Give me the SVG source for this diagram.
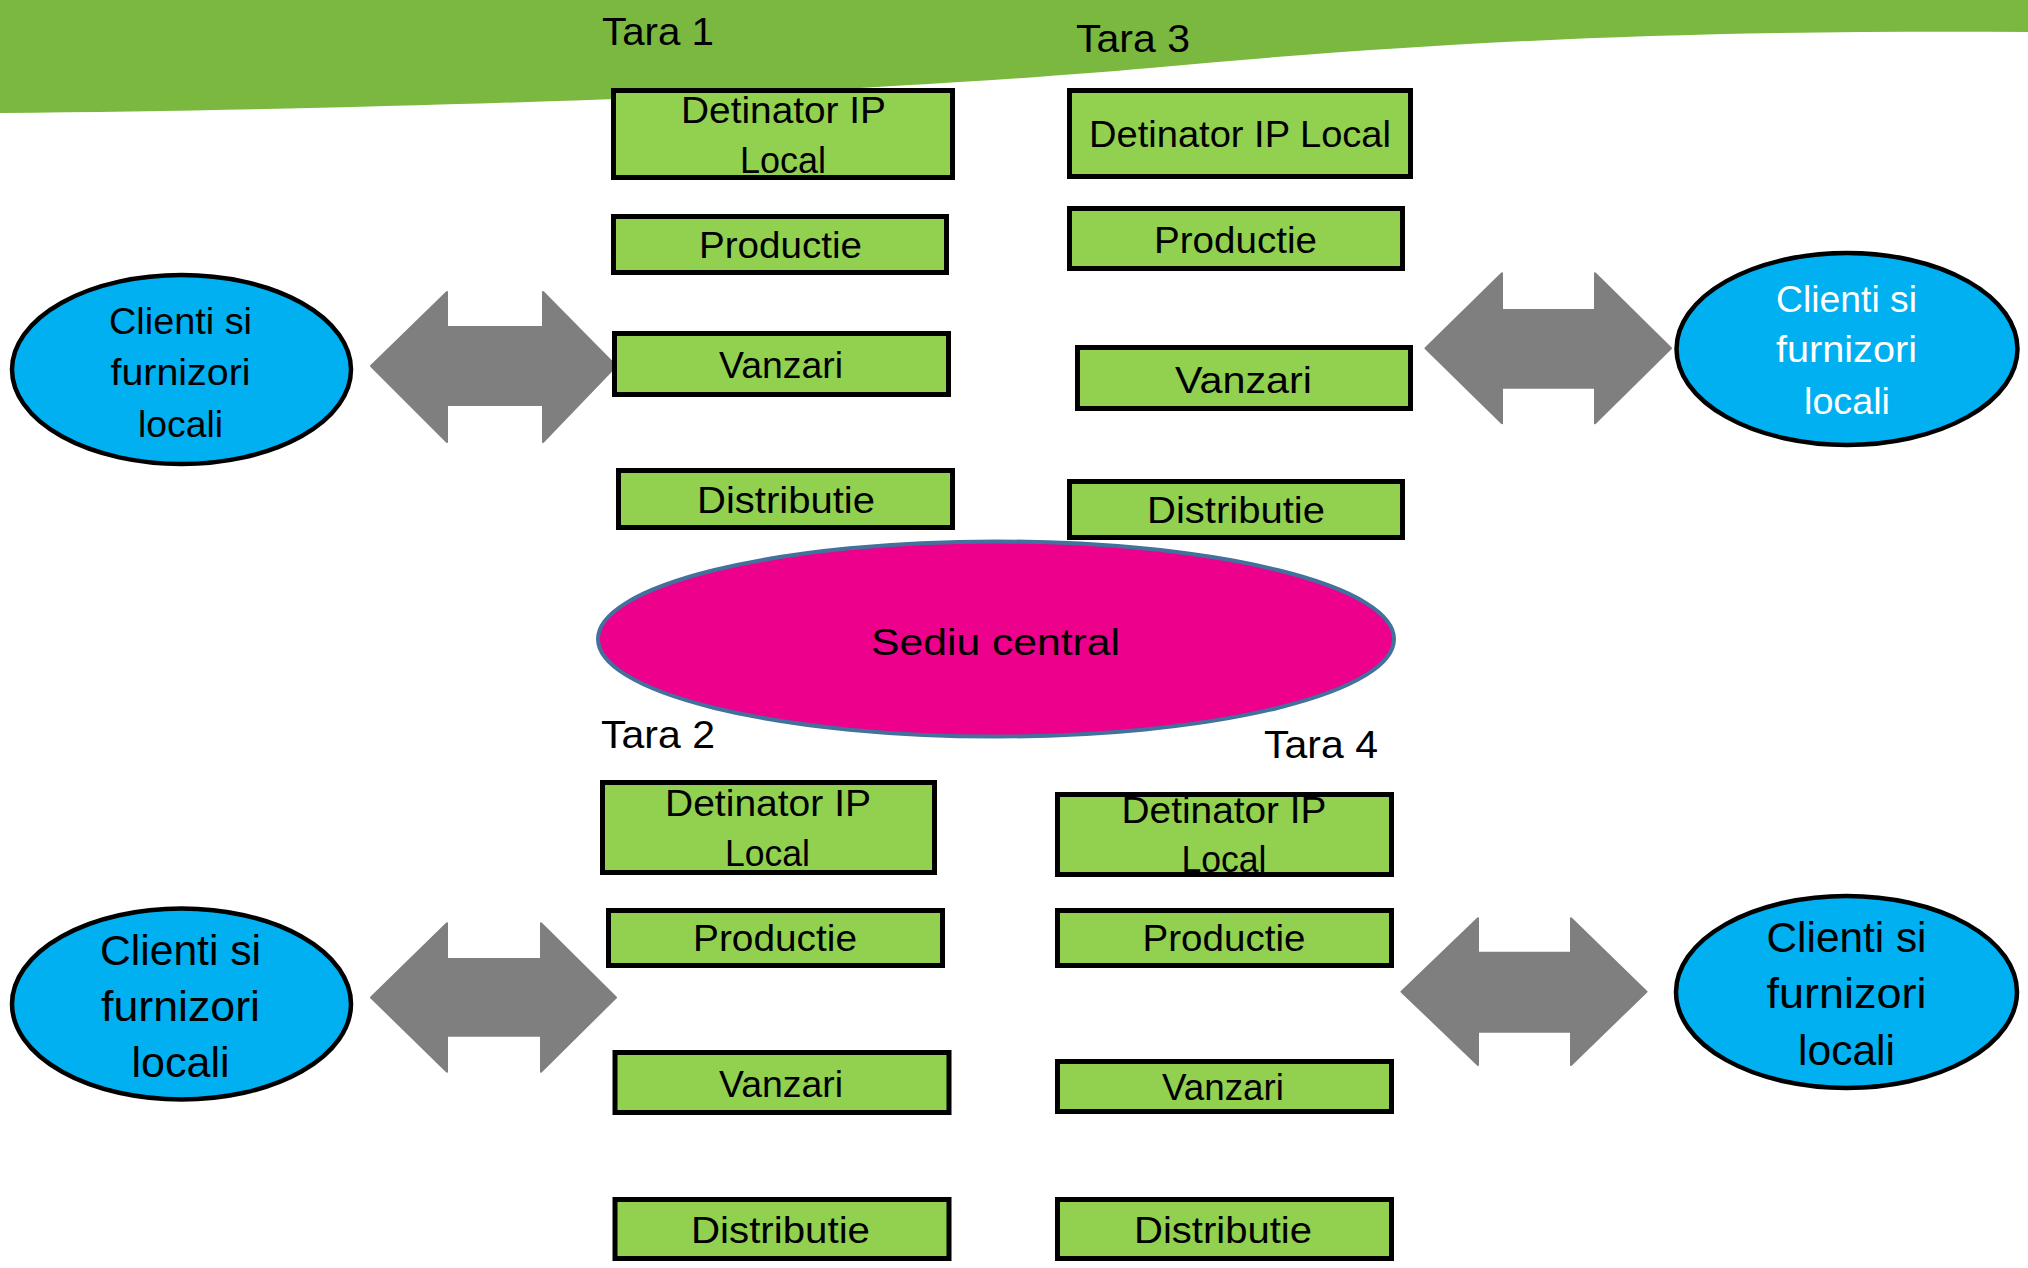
<svg xmlns="http://www.w3.org/2000/svg" width="2028" height="1268" viewBox="0 0 2028 1268">
  <style>
    .box { fill: #92D050; stroke: #000; stroke-width: 5; }
    .lbl { font-family: "Liberation Sans", Arial, sans-serif; font-size: 37.5px; fill: #000; text-anchor: middle; }
    .big { font-size: 42px; }
    .white { fill: #FFF; }
    .tara { font-family: "Liberation Sans", Arial, sans-serif; font-size: 39.5px; fill: #000; }
    .client { fill: #00B0F0; stroke: #000; stroke-width: 4.5; }
    .hq { fill: #EC008C; stroke: #41719C; stroke-width: 4; }
    .arrow { fill: #7F7F7F; stroke: #7F7F7F; stroke-width: 2; stroke-linejoin: round; }
  </style>

  <rect width="2028" height="1268" fill="#FFF"/>

  <!-- green header band -->
  <path d="M0,0 L2028,0 L2028,32 C1700,30 1450,40 1150,68 C900,90 500,108 0,113 Z" fill="#7AB83F"/>

  <!-- country titles -->
  <g id="country-labels">
    <text class="tara" x="602" y="45" textLength="112" lengthAdjust="spacingAndGlyphs">Tara 1</text>
    <text class="tara" x="1076" y="52" textLength="114" lengthAdjust="spacingAndGlyphs">Tara 3</text>
    <text class="tara" x="601" y="748" textLength="114" lengthAdjust="spacingAndGlyphs">Tara 2</text>
    <text class="tara" x="1264" y="758" textLength="114" lengthAdjust="spacingAndGlyphs">Tara 4</text>
  </g>

  <!-- double arrows between local partners and country units -->
  <g id="connectors">
    <path class="arrow" d="M371,366 L447,292 L447,327 L543,327 L543,292 L616,366 L543,442 L543,405 L447,405 L447,442 Z"/>
    <path class="arrow" d="M1425.5,348.3 L1502,273.3 L1502,310 L1595,310 L1595,273.3 L1671,348.3 L1595,423.3 L1595,387.7 L1502,387.7 L1502,423.3 Z"/>
    <path class="arrow" d="M371,997.5 L447,923.3 L447,959 L541,959 L541,923.3 L616,997.5 L541,1071.7 L541,1035.7 L447,1035.7 L447,1071.7 Z"/>
    <path class="arrow" d="M1401.5,991.7 L1478,918.3 L1478,952.7 L1571,952.7 L1571,918.3 L1646.5,991.7 L1571,1065 L1571,1031.7 L1478,1031.7 L1478,1065 Z"/>
  </g>

  <!-- Tara 1 -->
  <g id="t1-ip">
    <rect class="box" x="613.5" y="90.5" width="339" height="87"/>
    <text class="lbl" x="783.5" y="123" textLength="205" lengthAdjust="spacingAndGlyphs">Detinator IP</text>
    <text class="lbl" x="783" y="173" textLength="86" lengthAdjust="spacingAndGlyphs">Local</text>
  </g>
  <g id="t1-productie">
    <rect class="box" x="613.5" y="216.5" width="333" height="56"/>
    <text class="lbl" x="780.5" y="258" textLength="163" lengthAdjust="spacingAndGlyphs">Productie</text>
  </g>
  <g id="t1-vanzari">
    <rect class="box" x="614.5" y="333.5" width="334" height="61"/>
    <text class="lbl" x="781" y="378" textLength="124" lengthAdjust="spacingAndGlyphs">Vanzari</text>
  </g>
  <g id="t1-distributie">
    <rect class="box" x="618.5" y="470.5" width="334" height="57"/>
    <text class="lbl" x="786" y="513" textLength="178" lengthAdjust="spacingAndGlyphs">Distributie</text>
  </g>

  <!-- Tara 3 -->
  <g id="t3-ip">
    <rect class="box" x="1069.5" y="90.5" width="341" height="86"/>
    <text class="lbl" x="1240" y="147" textLength="302" lengthAdjust="spacingAndGlyphs">Detinator IP Local</text>
  </g>
  <g id="t3-productie">
    <rect class="box" x="1069.5" y="208.5" width="333" height="60"/>
    <text class="lbl" x="1235.5" y="253" textLength="163" lengthAdjust="spacingAndGlyphs">Productie</text>
  </g>
  <g id="t3-vanzari">
    <rect class="box" x="1077.5" y="347.5" width="333" height="61"/>
    <text class="lbl" x="1243.5" y="393" font-size="40" textLength="137" lengthAdjust="spacingAndGlyphs">Vanzari</text>
  </g>
  <g id="t3-distributie">
    <rect class="box" x="1069.5" y="481.5" width="333" height="56"/>
    <text class="lbl" x="1236" y="523" textLength="178" lengthAdjust="spacingAndGlyphs">Distributie</text>
  </g>

  <!-- Tara 2 -->
  <g id="t2-ip">
    <rect class="box" x="602.5" y="782.5" width="332" height="90"/>
    <text class="lbl" x="768" y="816" textLength="206" lengthAdjust="spacingAndGlyphs">Detinator IP</text>
    <text class="lbl" x="767.5" y="866" textLength="85" lengthAdjust="spacingAndGlyphs">Local</text>
  </g>
  <g id="t2-productie">
    <rect class="box" x="608.5" y="910.5" width="334" height="55"/>
    <text class="lbl" x="775" y="951" textLength="164" lengthAdjust="spacingAndGlyphs">Productie</text>
  </g>
  <g id="t2-vanzari">
    <rect class="box" x="615" y="1052.5" width="334" height="60"/>
    <text class="lbl" x="781" y="1097" textLength="124" lengthAdjust="spacingAndGlyphs">Vanzari</text>
  </g>
  <g id="t2-distributie">
    <rect class="box" x="615" y="1199.5" width="334" height="59"/>
    <text class="lbl" x="780.5" y="1243" textLength="179" lengthAdjust="spacingAndGlyphs">Distributie</text>
  </g>

  <!-- Tara 4 -->
  <g id="t4-ip">
    <rect class="box" x="1057.5" y="794.5" width="334" height="80"/>
    <text class="lbl" x="1224" y="823" textLength="205" lengthAdjust="spacingAndGlyphs">Detinator IP</text>
    <text class="lbl" x="1224" y="872" textLength="85" lengthAdjust="spacingAndGlyphs">Local</text>
  </g>
  <g id="t4-productie">
    <rect class="box" x="1057.5" y="910.5" width="334" height="55"/>
    <text class="lbl" x="1224" y="951" textLength="163" lengthAdjust="spacingAndGlyphs">Productie</text>
  </g>
  <g id="t4-vanzari">
    <rect class="box" x="1057.5" y="1061.5" width="334" height="50"/>
    <text class="lbl" x="1223" y="1100" textLength="122" lengthAdjust="spacingAndGlyphs">Vanzari</text>
  </g>
  <g id="t4-distributie">
    <rect class="box" x="1057.5" y="1199.5" width="334" height="59"/>
    <text class="lbl" x="1223" y="1243" textLength="178" lengthAdjust="spacingAndGlyphs">Distributie</text>
  </g>

  <!-- headquarters -->
  <g id="sediu-central">
    <ellipse class="hq" cx="996" cy="639" rx="398" ry="97.5"/>
    <text class="lbl" x="995.5" y="655" font-size="41" textLength="249" lengthAdjust="spacingAndGlyphs">Sediu central</text>
  </g>

  <!-- local clients and suppliers -->
  <g id="clienti-1">
    <ellipse class="client" cx="181.5" cy="369.5" rx="169.5" ry="94.5"/>
    <text class="lbl" x="180.5" y="334" textLength="143" lengthAdjust="spacingAndGlyphs">Clienti si</text>
    <text class="lbl" x="180.5" y="385" textLength="140" lengthAdjust="spacingAndGlyphs">furnizori</text>
    <text class="lbl" x="180.5" y="436.5" textLength="85" lengthAdjust="spacingAndGlyphs">locali</text>
  </g>
  <g id="clienti-3">
    <ellipse class="client" cx="1847" cy="349" rx="170.5" ry="96"/>
    <text class="lbl white" x="1846.5" y="311.5" textLength="141" lengthAdjust="spacingAndGlyphs">Clienti si</text>
    <text class="lbl white" x="1846.5" y="361.5" textLength="141" lengthAdjust="spacingAndGlyphs">furnizori</text>
    <text class="lbl white" x="1847" y="414" textLength="86" lengthAdjust="spacingAndGlyphs">locali</text>
  </g>
  <g id="clienti-2">
    <ellipse class="client" cx="181.5" cy="1004" rx="169.5" ry="95.5"/>
    <text class="lbl big" x="180.5" y="965" textLength="161" lengthAdjust="spacingAndGlyphs">Clienti si</text>
    <text class="lbl big" x="180.5" y="1021" textLength="159" lengthAdjust="spacingAndGlyphs">furnizori</text>
    <text class="lbl big" x="180.5" y="1077" textLength="98" lengthAdjust="spacingAndGlyphs">locali</text>
  </g>
  <g id="clienti-4">
    <ellipse class="client" cx="1846.5" cy="992" rx="170.5" ry="96"/>
    <text class="lbl big" x="1846.5" y="951.5" textLength="160" lengthAdjust="spacingAndGlyphs">Clienti si</text>
    <text class="lbl big" x="1846.5" y="1008.3" textLength="160" lengthAdjust="spacingAndGlyphs">furnizori</text>
    <text class="lbl big" x="1846.5" y="1065" textLength="97" lengthAdjust="spacingAndGlyphs">locali</text>
  </g>
</svg>
